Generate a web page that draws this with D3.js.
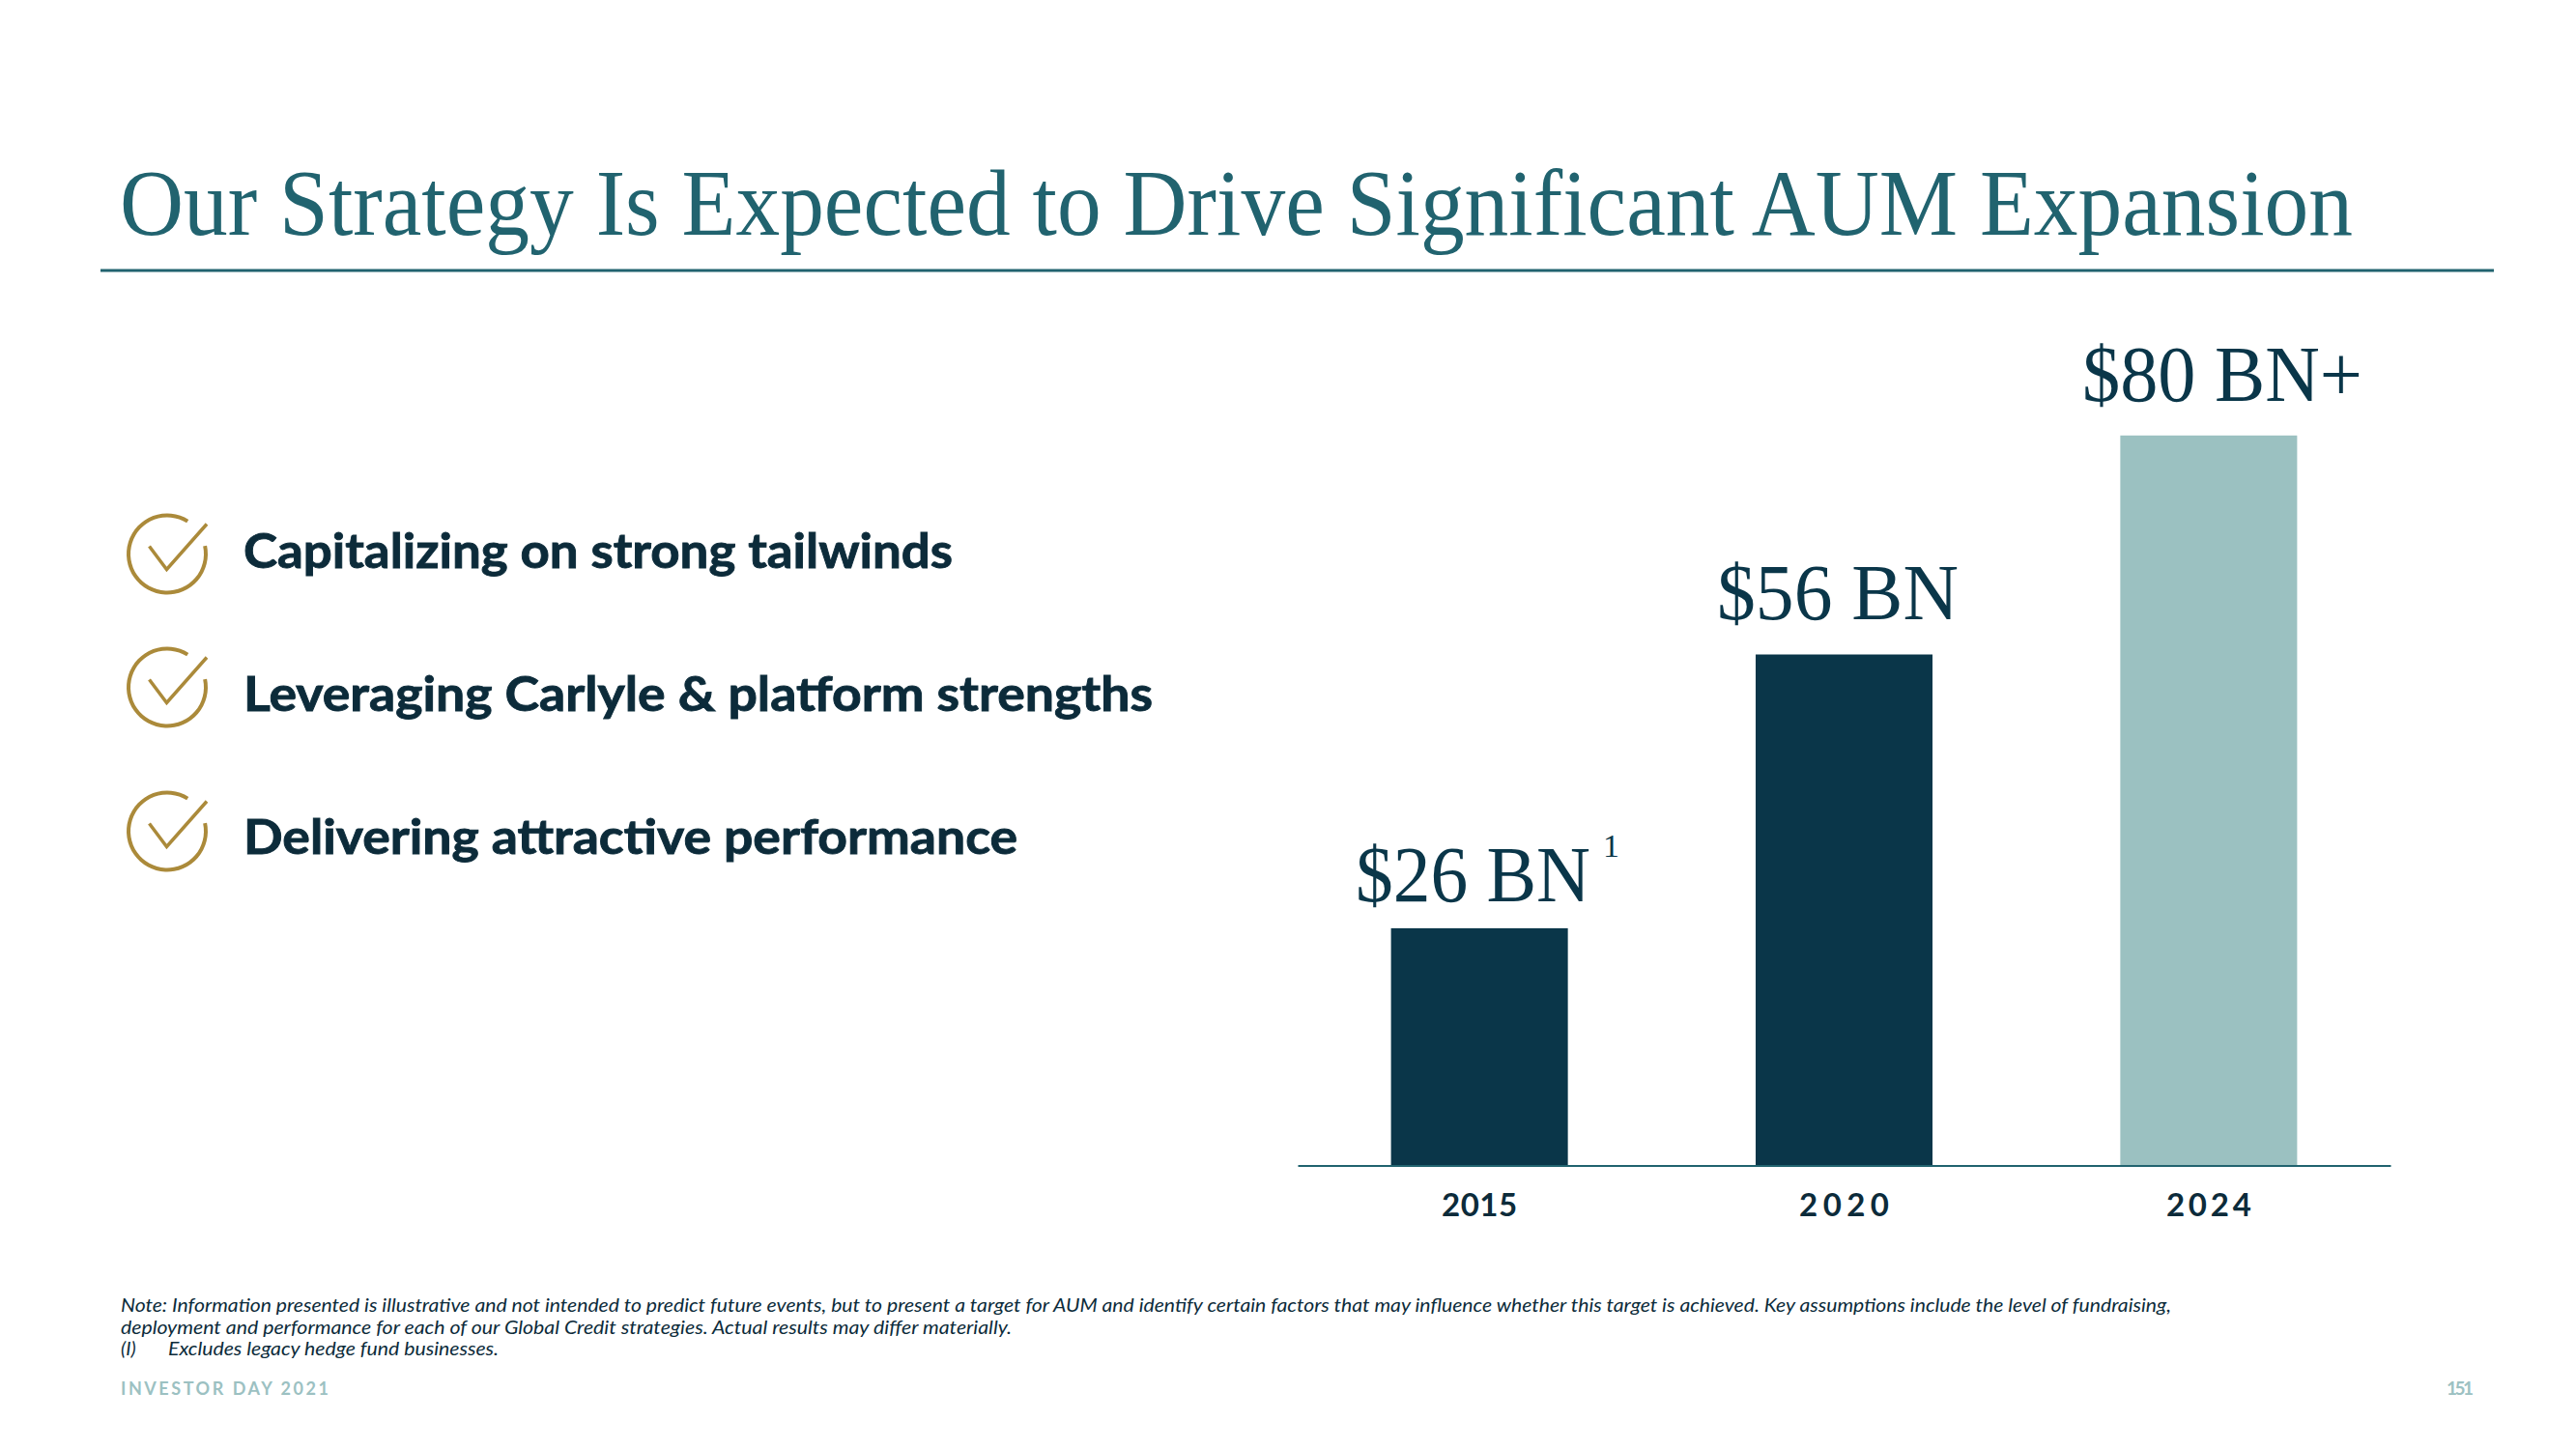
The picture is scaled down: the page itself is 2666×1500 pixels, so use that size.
<!DOCTYPE html>
<html>
<head>
<meta charset="utf-8">
<script src="https://cdn.jsdelivr.net/npm/d3@7"></script>
<style>
html,body{margin:0;padding:0;background:#fff;}
svg{display:block;}
</style>
</head>
<body>
<svg id="c" width="2666" height="1500"></svg>
<script>
const categories = ["2015", "2020", "2024"];
const values = [26, 56, 80];
const valueLabels = ["$26 BN", "$56 BN", "$80 BN+"];
const bulletTexts = ["Capitalizing on strong tailwinds", "Leveraging Carlyle & platform strengths", "Delivering attractive performance"];
const noteLines = [
  "Note: Information presented is illustrative and not intended to predict future events, but to present a target for AUM and identify certain factors that may influence whether this target is achieved. Key assumptions include the level of fundraising,",
  "deployment and performance for each of our Global Credit strategies. Actual results may differ materially."
];
const footnoteMark = "(I)";
const footnoteText = "Excludes legacy hedge fund businesses.";
const titleText = "Our Strategy Is Expected to Drive Significant AUM Expansion";
const footerText = "INVESTOR DAY 2021";
const pageNumber = "151";

// layout, separate from the data
const barColors = ["#0a3649", "#0a3649", "#9bc1c1"];
const labelLayout = [{x:1403,w:243,gap:28},{x:1777,w:250,gap:37},{x:2155,w:290,gap:36}];
const bulletLayout = [{cy:573.5,base:588,w:734},{cy:711.5,base:736,w:941},{cy:860.5,base:884,w:801}];
const noteLayout = [{base:1358,w:2122},{base:1381,w:922}];
const tickWidths = [78, 93, 88];
const serif = "'Liberation Serif', serif";
const sans = "Lato, 'Noto Sans', sans-serif";
const ink = "#0c2b3a", teal = "#21636f", gold = "#ab8a3a", pale = "#9cc1c2";

const svg = d3.select("#c");

function fitted(sel, len, adjust){
  return sel.attr("textLength", len).attr("lengthAdjust", adjust || "spacingAndGlyphs");
}

// title + rule
fitted(svg.append("text").attr("x",124).attr("y",243)
  .attr("font-family",serif).attr("font-size",97).attr("fill",teal).text(titleText), 2311);
svg.append("rect").attr("x",104).attr("y",278.5).attr("width",2477).attr("height",3).attr("fill",teal);

// bullets
const arc = d3.arc().innerRadius(38).outerRadius(42)
  .startAngle(78*Math.PI/180).endAngle(392*Math.PI/180);
const tick = d3.line();
const bullets = svg.selectAll("g.bullet").data(bulletTexts).join("g").attr("class","bullet");
bullets.append("path")
  .attr("transform",(d,i)=>`translate(173,${bulletLayout[i].cy})`)
  .attr("d",arc()).attr("fill",gold);
bullets.append("path")
  .attr("transform",(d,i)=>`translate(173,${bulletLayout[i].cy})`)
  .attr("d",tick([[-18.5,-8],[-0.5,16],[41,-31]]))
  .attr("fill","none").attr("stroke",gold).attr("stroke-width",3.5);
bullets.append("text").attr("x",252).attr("y",(d,i)=>bulletLayout[i].base)
  .attr("font-family",sans).attr("font-weight",700).attr("font-size",50).attr("fill",ink)
  .attr("stroke",ink).attr("stroke-width",0.9)
  .attr("textLength",(d,i)=>bulletLayout[i].w).attr("lengthAdjust","spacingAndGlyphs")
  .text(d=>d);

// chart
const x = d3.scaleBand().domain(categories).range([1343,2474]).paddingInner(0.515).paddingOuter(0.256);
const y = d3.scaleLinear().domain([0,80]).range([1206.5,450.8]);

svg.selectAll("rect.bar").data(values).join("rect").attr("class","bar")
  .attr("x",(d,i)=>x(categories[i])).attr("width",x.bandwidth())
  .attr("y",d=>y(d)).attr("height",d=>y(0)-y(d))
  .attr("fill",(d,i)=>barColors[i]);

const axis = svg.append("g").attr("transform",`translate(0,${y(0)})`)
  .call(d3.axisBottom(x).tickSize(0).tickPadding(29));
axis.select(".domain").attr("stroke",teal).attr("stroke-width",2);
axis.selectAll("text").attr("font-family",sans).attr("font-weight",700).attr("font-size",33)
  .attr("fill",ink)
  .attr("textLength",(d,i)=>tickWidths[i]).attr("lengthAdjust","spacing");

svg.selectAll("text.val").data(valueLabels).join("text").attr("class","val")
  .attr("x",(d,i)=>labelLayout[i].x).attr("y",(d,i)=>y(values[i])-labelLayout[i].gap)
  .attr("font-family",serif).attr("font-size",82).attr("fill","#0a3649")
  .attr("textLength",(d,i)=>labelLayout[i].w).attr("lengthAdjust","spacingAndGlyphs")
  .text(d=>d);
svg.append("text").attr("x",1659).attr("y",887).attr("font-family",serif)
  .attr("font-size",34).attr("fill","#0a3649").text("1");

// notes
svg.selectAll("text.note").data(noteLines).join("text").attr("class","note")
  .attr("x",125).attr("y",(d,i)=>noteLayout[i].base)
  .attr("font-family",sans).attr("font-style","italic").attr("font-size",20).attr("fill",ink)
  .attr("textLength",(d,i)=>noteLayout[i].w).attr("lengthAdjust","spacingAndGlyphs")
  .text(d=>d);
svg.append("text").attr("x",125).attr("y",1403).attr("font-family",sans).attr("font-style","italic")
  .attr("font-size",20).attr("fill",ink).text(footnoteMark);
fitted(svg.append("text").attr("x",174).attr("y",1403).attr("font-family",sans).attr("font-style","italic")
  .attr("font-size",20).attr("fill",ink).text(footnoteText), 342);

// footer
fitted(svg.append("text").attr("x",125).attr("y",1444).attr("font-family",sans).attr("font-weight",700)
  .attr("font-size",18).attr("fill",pale).text(footerText), 215, "spacing");
fitted(svg.append("text").attr("x",2532).attr("y",1444).attr("font-family",sans).attr("font-weight",700)
  .attr("font-size",19).attr("fill",pale).text(pageNumber), 28, "spacing");
</script>
</body>
</html>
